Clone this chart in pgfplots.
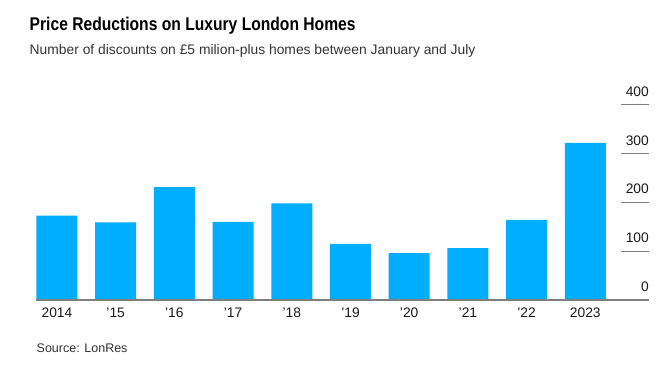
\documentclass[border=0pt]{standalone}
\usepackage{fontspec}
\setmainfont{Liberation Sans}
\newfontfamily\titlefont[FakeStretch=0.85]{Liberation Sans}
\usepackage{pgfplots}
\pgfplotsset{compat=1.18}
\definecolor{barblue}{HTML}{00AEFF}
\definecolor{gridg}{HTML}{7F7F7F}
\definecolor{subg}{HTML}{333333}
\begin{document}
\begin{tikzpicture}
\useasboundingbox (0pt,0pt) rectangle (661pt,366pt);
\node[anchor=base west, inner sep=0] at (29.5pt,335.5pt) {\titlefont\bfseries\fontsize{18.4}{20}\selectfont Price Reductions on Luxury London Homes};
\node[anchor=base west, inner sep=0, text=subg] at (29.5pt,311pt) {\fontsize{13.85}{16}\selectfont Number of discounts on £5 milion-plus homes between January and July};
\node[anchor=base west, inner sep=0, text=subg] at (36.5pt,13pt) {\fontsize{12.5}{14}\selectfont Source: LonRes};
\begin{axis}[
  at={(36pt,66pt)}, anchor=south west,
  scale only axis, width=613pt, height=195.3pt,
  xmin=-0.357, xmax=10.085, ymin=0, ymax=400,
  axis line style={draw=none},
  major tick length=0pt,
  xtick={0,...,9},
  xticklabels={2014,'15,'16,'17,'18,'19,'20,'21,'22,2023},
  ytick={0,100,200,300,400},
  yticklabel pos=right,
  /pgf/number format/assume math mode=true,
  ticklabel style={font=\fontsize{13.8}{15}\selectfont, text=black!90},
  xticklabel style={anchor=base, yshift=-18pt, inner sep=0pt},
  yticklabel style={anchor=base east, inner sep=0pt, xshift=0pt, yshift=8.5pt},
  clip=false,
]
\addplot[ybar, bar width=41pt, fill=barblue, draw=none] coordinates {
 (0,173) (1,159) (2,231) (3,160) (4,198) (5,115) (6,96) (7,106) (8,164) (9,322)
};
\draw[gridg, line width=1.3pt] (axis cs:-0.357,0) -- (axis cs:10.085,0);
\draw[gridg, line width=1pt] (axis cs:9.61,100) -- (axis cs:10.085,100);
\draw[gridg, line width=1pt] (axis cs:9.61,200) -- (axis cs:10.085,200);
\draw[gridg, line width=1pt] (axis cs:9.61,300) -- (axis cs:10.085,300);
\draw[gridg, line width=1pt] (axis cs:9.61,400) -- (axis cs:10.085,400);
\end{axis}
\end{tikzpicture}
\end{document}
